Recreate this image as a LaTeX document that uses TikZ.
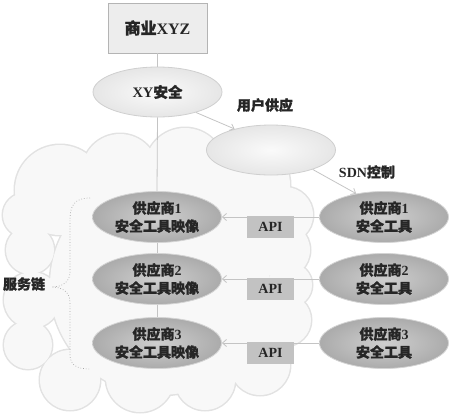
\documentclass[tikz,border=0pt]{standalone}
\usepackage{fontspec}
\setmainfont{Liberation Serif}
\newfontfamily\cjk[FakeBold=1.2]{Noto Sans CJK SC}
\usetikzlibrary{shapes.geometric,arrows.meta}
\definecolor{cloudfill}{HTML}{F8F8F8}
\definecolor{cloudline}{HTML}{E2E2E2}
\definecolor{boxfill}{HTML}{EDEDED}
\definecolor{boxline}{HTML}{B4B4B4}
\definecolor{lightin}{HTML}{FAFAFA}
\definecolor{lightout}{HTML}{E6E6E6}
\definecolor{lightline}{HTML}{CFCFCF}
\definecolor{darkin}{HTML}{CFCFCF}
\definecolor{darkout}{HTML}{ABABAB}
\definecolor{darkline}{HTML}{D4D4D4}
\definecolor{apifill}{HTML}{C2C2C2}
\definecolor{linkc}{HTML}{C4C4C4}
\definecolor{txt}{HTML}{262626}
\newcommand\zh[1]{{\cjk #1}}
\tikzset{
  topbox/.style={draw=boxline, fill=boxfill, line width=0.8pt, minimum width=99pt, minimum height=50pt, inner sep=0pt, text=txt, font=\fontsize{16}{19}\selectfont\bfseries},
  lightell/.style={ellipse, draw=lightline, line width=0.8pt, inner color=lightin, outer color=lightout, minimum width=129pt, minimum height=50pt, inner sep=0pt, text=txt, font=\fontsize{14.5}{18}\selectfont\bfseries},
  darkell/.style={ellipse, draw=darkline, line width=0.8pt, inner color=darkin, outer color=darkout, minimum width=129pt, minimum height=51pt, inner sep=0pt, align=center, text=txt, font=\fontsize{14}{18}\selectfont\bfseries},
  apibox/.style={fill=apifill, minimum width=47pt, minimum height=22pt, inner sep=0pt, text=txt, font=\fontsize{14}{16}\selectfont\bfseries},
  lbl/.style={text=txt, inner sep=0pt, font=\fontsize{14}{16}\selectfont\bfseries},
  link/.style={draw=linkc, line width=0.8pt},
  arr/.style={draw=linkc, line width=0.8pt, -{Straight Barb[length=4pt,width=7pt]}},
  brace/.style={draw=gray!70, line width=0.7pt, dotted},
}
\begin{document}
\begin{tikzpicture}[x=1pt,y=-1pt]
\useasboundingbox (0,0) rectangle (450,413);
% cloud
\def\cloudcircles{(60,190)/45, (120,172)/38, (185,168)/40, (245,185)/45, (285,215)/28, (282,250)/28, (25,215)/22, (30,250)/24, (32,300)/28, (28,345)/24, (70,380)/30, (140,378)/34, (205,380)/30, (260,365)/30, (285,320)/26, (290,285)/22, (255,330)/26, (160,285)/110}
\foreach \p/\r in \cloudcircles { \draw[cloudline, line width=3pt] \p circle[radius=\r]; }
\foreach \p/\r in \cloudcircles { \fill[cloudfill] \p circle[radius=\r]; }
% nodes
\node[topbox] (biz) at (157.5,28) {\zh{商业}XYZ};
\node[lightell] (xy) at (157.5,92) {XY\zh{安全}};
\node[lightell] (blank) at (271,150) {};
\node[darkell] (l1) at (157,217) {\zh{供应商}1\\\zh{安全工具映像}};
\node[darkell] (l2) at (157,279) {\zh{供应商}2\\\zh{安全工具映像}};
\node[darkell] (l3) at (157,343) {\zh{供应商}3\\\zh{安全工具映像}};
\node[darkell] (r1) at (384,217) {\zh{供应商}1\\\zh{安全工具}};
\node[darkell] (r2) at (384,279) {\zh{供应商}2\\\zh{安全工具}};
\node[darkell] (r3) at (384,343) {\zh{供应商}3\\\zh{安全工具}};
% links
\draw[link] (biz.south) -- (xy.north);
\draw[link] (xy.south) -- (l1.north);
\draw[link] (l1.south) -- (l2.north);
\draw[link] (l2.south) -- (l3.north);
\draw[arr] (xy.-28) -- (blank.150);
\draw[arr] (blank.-25) -- (r1.140);
\draw[arr] (r1.west) -- (l1.east);
\draw[arr] (r2.west) -- (l2.east);
\draw[arr] (r3.west) -- (l3.east);
\node[apibox] (api1) at (270.5,226.5) {API};
\node[apibox] (api2) at (270.5,289) {API};
\node[apibox] (api3) at (270.5,353) {API};
% labels
\node[lbl] (yhgy) at (265,105) {\zh{用户供应}};
\node[lbl] (sdn) at (367,172) {SDN\zh{控制}};
\node[lbl] (fwl) at (24,284) {\zh{服务链}};
% brace
\draw[brace] (90,198) .. controls (74,198) and (70,206) .. (70,220) -- (70,272) .. controls (70,282) and (62,287) .. (52,287) .. controls (62,287) and (70,292) .. (70,302) -- (70,354) .. controls (70,364) and (75,369) .. (90,369);
\end{tikzpicture}
\end{document}
